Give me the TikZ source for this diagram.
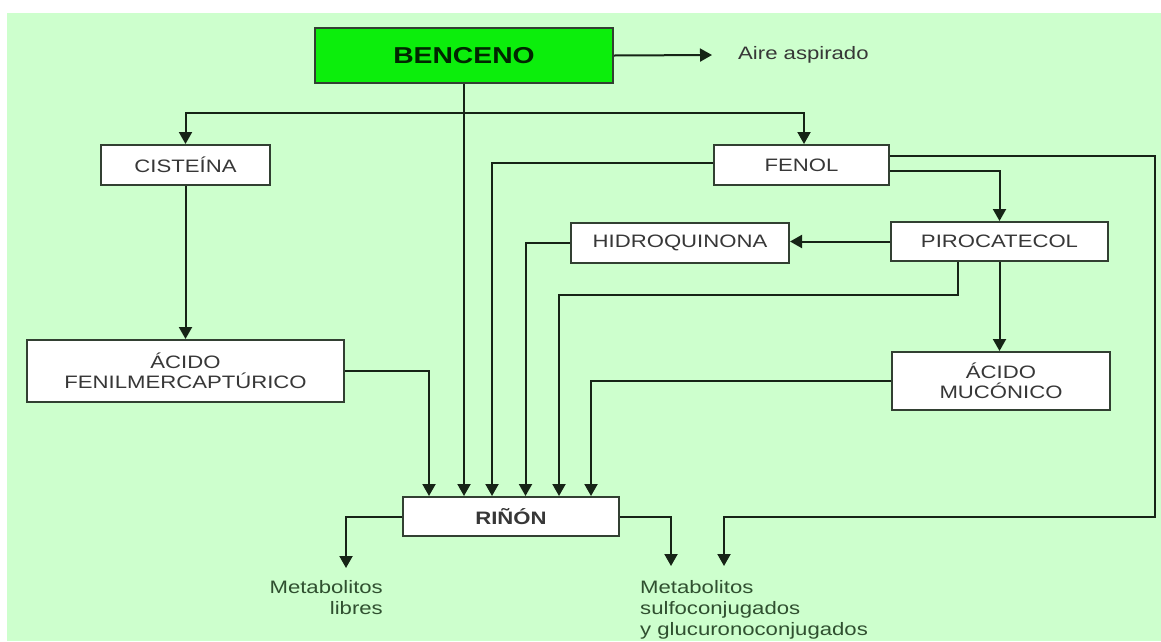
\documentclass[tikz,border=0pt]{standalone}
\usepackage{fontspec}
\setmainfont{Liberation Sans}[FakeStretch=1.23]
\usetikzlibrary{arrows.meta}
\definecolor{panel}{RGB}{205,255,205}
\definecolor{hotgreen}{RGB}{12,238,12}
\definecolor{wire}{RGB}{22,36,22}
\definecolor{frame}{RGB}{50,64,50}
\definecolor{ink}{RGB}{55,55,55}
\definecolor{leafink}{RGB}{48,80,48}
\tikzset{
  box/.style={draw=frame, line width=2pt, fill=white, inner sep=0pt,
    align=center, text=ink, font=\fontsize{18}{20.5}\selectfont},
  wireline/.style={draw=wire, line width=2pt},
  arr/.style={wireline, -{Triangle[length=12pt,width=13pt]}},
  note/.style={inner sep=0pt, text=leafink, font=\fontsize{18}{21}\selectfont},
}
\begin{document}
\begin{tikzpicture}[x=1pt, y=-1pt]
\useasboundingbox (0,0) rectangle (1161,641);
\fill[white] (0,0) rectangle (1161,641);
\fill[panel] (7,13) rectangle (1161,641);

% compounds
\node[box, fill=hotgreen, text=black!85!green, minimum width=298pt, minimum height=55pt,
  font=\bfseries\fontsize{23}{26}\selectfont] (benceno) at (464,55.5) {BENCENO};
\node[box, minimum width=169pt, minimum height=40pt] (cist) at (185.5,165) {CISTEÍNA};
\node[box, minimum width=175pt, minimum height=40pt] (fenol) at (801.5,165) {FENOL};
\node[box, minimum width=218pt, minimum height=40pt] (hidro) at (680,242.5) {HIDROQUINONA};
\node[box, minimum width=217pt, minimum height=39pt] (piro) at (999.5,241.5) {PIROCATECOL};
\node[box, minimum width=317pt, minimum height=62pt] (acfen) at (185.5,371) {ÁCIDO\\FENILMERCAPTÚRICO};
\node[box, minimum width=218pt, minimum height=58pt] (acmuc) at (1001,381) {ÁCIDO\\MUCÓNICO};
\node[box, minimum width=216pt, minimum height=39pt, font=\bfseries\fontsize{18}{20.5}\selectfont]
  (rinon) at (511,516.5) {RIÑÓN};

% outputs
\node[inner sep=0pt, text=ink, font=\fontsize{18}{21}\selectfont, anchor=west] (aire) at (738,55) {Aire aspirado};
\node[note, anchor=north east, align=right] (mlib) at (383,580) {Metabolitos\\libres};
\node[note, anchor=north west, align=left] (msul) at (640,580) {Metabolitos\\sulfoconjugados\\y glucuronoconjugados};

% helper points
\coordinate (split) at (0,113);
\coordinate (k1) at (429,0);
\coordinate (k3) at (492,0);
\coordinate (k4) at (525.5,0);
\coordinate (k5) at (559,0);
\coordinate (k6) at (591,0);
\coordinate (rc) at (1155,517);
\coordinate (tconj) at (724,566);
\coordinate (tlib) at (346,568);
\coordinate (tsul) at (671,566);

% benceno
\draw[arr] (benceno.east) -- ([xshift=-26pt]aire.west);
\draw[arr] (benceno.south) -- (benceno.south |- rinon.north);
\draw[arr] (split -| benceno.south) -| (cist.north);
\draw[arr] (split -| benceno.south) -| ([xshift=2.5pt]fenol.north);

% cisteina branch
\draw[arr] (cist.south) -- (acfen.north);
\draw[arr] (acfen.east) -| (k1 |- rinon.north);

% fenol branch
\draw[arr] ([yshift=2pt]fenol.west) -| (k3 |- rinon.north);
\draw[arr] ([yshift=-6pt]fenol.east) -| (piro.north);
\draw[arr] ([yshift=9pt]fenol.east) -| (rc) -| (tconj);

% pirocatecol branch
\draw[arr] (piro.west) -- (piro.west -| hidro.east);
\draw[arr] (hidro.west) -| (k4 |- rinon.north);
\draw[arr] ([xshift=-41.5pt]piro.south) -- ++(0,33) -| (k5 |- rinon.north);
\draw[arr] (piro.south) -- (piro.south |- acmuc.north);
\draw[arr] (acmuc.west) -| (k6 |- rinon.north);

% kidney
\draw[arr] (rinon.west) -| (tlib);
\draw[arr] (rinon.east) -| (tsul);
\end{tikzpicture}
\end{document}
